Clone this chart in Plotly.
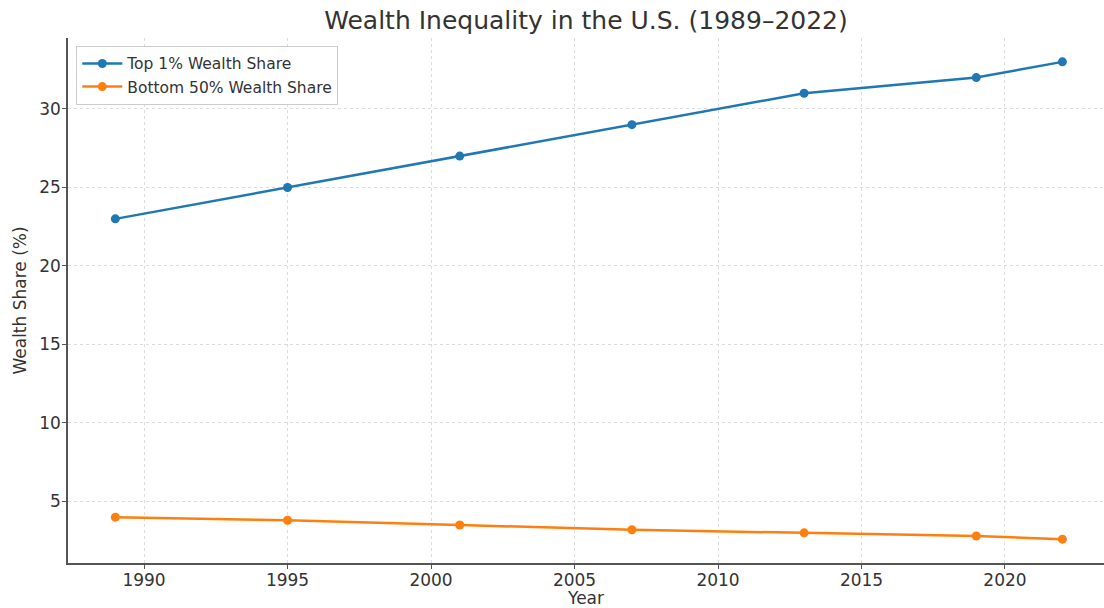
import plotly.graph_objects as go

years = [1989, 1995, 2001, 2007, 2013, 2019, 2022]
top1 = [23, 25, 27, 29, 31, 32, 33]
bottom50 = [4.0, 3.8, 3.5, 3.2, 3.0, 2.8, 2.6]

fig = go.Figure()
fig.add_trace(go.Scatter(x=years, y=top1, mode="lines+markers", name="Top 1% Wealth Share",
                         line=dict(color="#1f77b4", width=2.5), marker=dict(size=9, color="#1f77b4")))
fig.add_trace(go.Scatter(x=years, y=bottom50, mode="lines+markers", name="Bottom 50% Wealth Share",
                         line=dict(color="#ff7f0e", width=2.5), marker=dict(size=9, color="#ff7f0e")))

font_family = "DejaVu Sans"
fig.update_layout(
    width=1104, height=608,
    paper_bgcolor="white", plot_bgcolor="white",
    margin=dict(l=68, r=0, t=38, b=45, autoexpand=False),
    title=dict(text="Wealth Inequality in the U.S. (1989–2022)", x=0.5, xref="paper", xanchor="center",
               y=0.967, yanchor="middle", font=dict(family=font_family, size=25, color="#333333")),
    font=dict(family=font_family, color="#333333"),
    showlegend=True,
    legend=dict(x=0.008, y=0.985, xanchor="left", yanchor="top", itemwidth=40,
                bgcolor="rgba(255,255,255,0.9)", bordercolor="#cccccc", borderwidth=1,
                font=dict(family=font_family, size=15.5, color="#333333")),
    xaxis=dict(range=[1987.35, 2023.45], tickvals=[1990, 1995, 2000, 2005, 2010, 2015, 2020],
               showgrid=True, gridcolor="#dcdcdc", griddash="3px,3px", gridwidth=1,
               showline=True, linecolor="#555555", linewidth=1.5, ticks="outside", ticklen=4,
               tickcolor="#555555", tickfont=dict(size=17), zeroline=False, automargin=False,
               ticklabelstandoff=-3,
               title=dict(text="Year", font=dict(size=17), standoff=0)),
    yaxis=dict(range=[1.08, 34.52], tickvals=[5, 10, 15, 20, 25, 30],
               showgrid=True, gridcolor="#dcdcdc", griddash="3px,3px", gridwidth=1,
               showline=True, linecolor="#555555", linewidth=1.5, ticks="outside", ticklen=4,
               tickcolor="#555555", tickfont=dict(size=17), zeroline=False, automargin=False,
               ticklabelstandoff=-2,
               title=dict(text="Wealth Share (%)", font=dict(size=17), standoff=8)),
)

fig.write_html("out.html", config={"displayModeBar": False},
               post_script="document.body.style.margin='0';")
